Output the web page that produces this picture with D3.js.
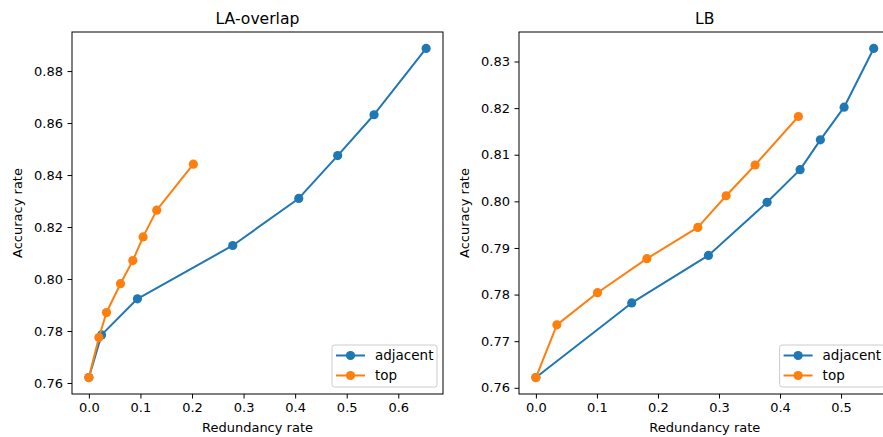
<!DOCTYPE html>
<html>
<head>
<meta charset="utf-8">
<script src="https://cdn.jsdelivr.net/npm/d3@7"></script>
<style>
  body { margin: 0; background: white; }
  svg { font-family: "DejaVu Sans", sans-serif; }
</style>
</head>
<body>
<div id="container"></div>
<script>
// data
const laAdjX = [0, 0.0246, 0.0942, 0.279, 0.407, 0.4825, 0.553, 0.654];
const laAdjY = [0.7621, 0.7785, 0.7924, 0.8129, 0.8310, 0.8475, 0.8632, 0.8887];
const laTopX = [0, 0.0194, 0.0342, 0.0613, 0.0852, 0.1052, 0.1316, 0.2026];
const laTopY = [0.7621, 0.7775, 0.7871, 0.7982, 0.8071, 0.8162, 0.8265, 0.8442];

const lbAdjX = [0, 0.157, 0.2827, 0.3788, 0.4329, 0.4661, 0.505, 0.5535];
const lbAdjY = [0.7622, 0.7782, 0.7884, 0.7998, 0.8068, 0.8132, 0.8202, 0.8328];
const lbTopX = [0, 0.0344, 0.1009, 0.1818, 0.2653, 0.3117, 0.3592, 0.4301];
const lbTopY = [0.7622, 0.7735, 0.7804, 0.7877, 0.7944, 0.8012, 0.8078, 0.8182];

const laXTicks = [0, 0.1, 0.2, 0.3, 0.4, 0.5, 0.6];
const laYTicks = [0.76, 0.78, 0.80, 0.82, 0.84, 0.86, 0.88];
const lbXTicks = [0, 0.1, 0.2, 0.3, 0.4, 0.5];
const lbYTicks = [0.76, 0.77, 0.78, 0.79, 0.80, 0.81, 0.82, 0.83];

const seriesNames = ["adjacent", "top"];
const colors = ["#1f77b4", "#ff7f0e"];

const width = 883, height = 437;

const svg = d3.select("#container").append("svg")
    .attr("width", width)
    .attr("height", height);

const zip = (xs, ys) => xs.map((x, i) => ({x: x, y: ys[i]}));

// pad the data extent by 5% like matplotlib does
function padded(vals) {
    const [lo, hi] = d3.extent(vals);
    const m = (hi - lo) * 0.05;
    return [lo - m, hi + m];
}

function drawPanel(opts) {
    const {left, top, w, h, title, series, xTicks, yTicks, yFmt} = opts;

    const allX = series.flatMap(s => s.map(d => d.x));
    const allY = series.flatMap(s => s.map(d => d.y));

    const x = d3.scaleLinear().domain(padded(allX)).range([left, left + w]);
    const y = d3.scaleLinear().domain(padded(allY)).range([top + h, top]);

    const g = svg.append("g");

    // x axis
    g.append("g")
        .attr("transform", `translate(0,${top + h})`)
        .call(d3.axisBottom(x).tickValues(xTicks).tickFormat(d3.format(".1f")).tickSizeOuter(0).tickSize(4.5).tickPadding(4.5))
        .call(a => a.select(".domain").remove())
        .call(a => a.selectAll("text").attr("font-size", 13).attr("font-family", "DejaVu Sans").attr("fill", "#000"))
        .call(a => a.selectAll("line").attr("stroke", "#000").attr("stroke-width", 1));

    // y axis
    g.append("g")
        .attr("transform", `translate(${left},0)`)
        .call(d3.axisLeft(y).tickValues(yTicks).tickFormat(d3.format(yFmt)).tickSizeOuter(0).tickSize(4.5).tickPadding(4.5))
        .call(a => a.select(".domain").remove())
        .call(a => a.selectAll("text").attr("font-size", 13).attr("font-family", "DejaVu Sans").attr("fill", "#000"))
        .call(a => a.selectAll("line").attr("stroke", "#000").attr("stroke-width", 1));

    const line = d3.line().x(d => x(d.x)).y(d => y(d.y));

    series.forEach((s, i) => {
        g.append("path")
            .datum(s)
            .attr("fill", "none")
            .attr("stroke", colors[i])
            .attr("stroke-width", 2)
            .attr("stroke-linejoin", "round")
            .attr("d", line);
        g.append("g")
            .selectAll("circle")
            .data(s)
            .join("circle")
            .attr("cx", d => x(d.x))
            .attr("cy", d => y(d.y))
            .attr("r", 4.6)
            .attr("fill", colors[i]);
    });

    // frame
    g.append("rect")
        .attr("x", left).attr("y", top).attr("width", w).attr("height", h)
        .attr("fill", "none").attr("stroke", "#000").attr("stroke-width", 1);

    // title and labels
    g.append("text")
        .attr("x", left + w / 2).attr("y", top - 8)
        .attr("text-anchor", "middle")
        .attr("font-size", 15.6)
        .text(title);

    g.append("text")
        .attr("x", left + w / 2).attr("y", top + h + 38)
        .attr("text-anchor", "middle")
        .attr("font-size", 13)
        .text("Redundancy rate");

    g.append("text")
        .attr("transform", `translate(${left - 50},${top + h / 2}) rotate(-90)`)
        .attr("text-anchor", "middle")
        .attr("font-size", 13)
        .text("Accuracy rate");

    // legend, lower right
    const lw = 105, lh = 42;
    const lx = left + w - lw - 6, ly = top + h - lh - 7;
    const leg = g.append("g").attr("transform", `translate(${lx},${ly})`);
    leg.append("rect")
        .attr("width", lw).attr("height", lh).attr("rx", 2.5)
        .attr("fill", "white").attr("fill-opacity", 0.8)
        .attr("stroke", "#ccc").attr("stroke-width", 1);
    seriesNames.forEach((name, i) => {
        const yy = 10.5 + i * 20;
        leg.append("line")
            .attr("x1", 4).attr("x2", 33).attr("y1", yy).attr("y2", yy)
            .attr("stroke", colors[i]).attr("stroke-width", 2);
        leg.append("circle").attr("cx", 18.5).attr("cy", yy).attr("r", 4.6).attr("fill", colors[i]);
        leg.append("text")
            .attr("x", 43).attr("y", yy).attr("dy", "0.35em")
            .attr("font-size", 13.5)
            .text(name);
    });
}

drawPanel({
    left: 72, top: 32, w: 371, h: 362,
    title: "LA-overlap",
    series: [zip(laAdjX, laAdjY), zip(laTopX, laTopY)],
    xTicks: laXTicks, yTicks: laYTicks, yFmt: ".2f"
});

drawPanel({
    left: 519, top: 32, w: 371.6, h: 362,
    title: "LB",
    series: [zip(lbAdjX, lbAdjY), zip(lbTopX, lbTopY)],
    xTicks: lbXTicks, yTicks: lbYTicks, yFmt: ".2f"
});
</script>
</body>
</html>
